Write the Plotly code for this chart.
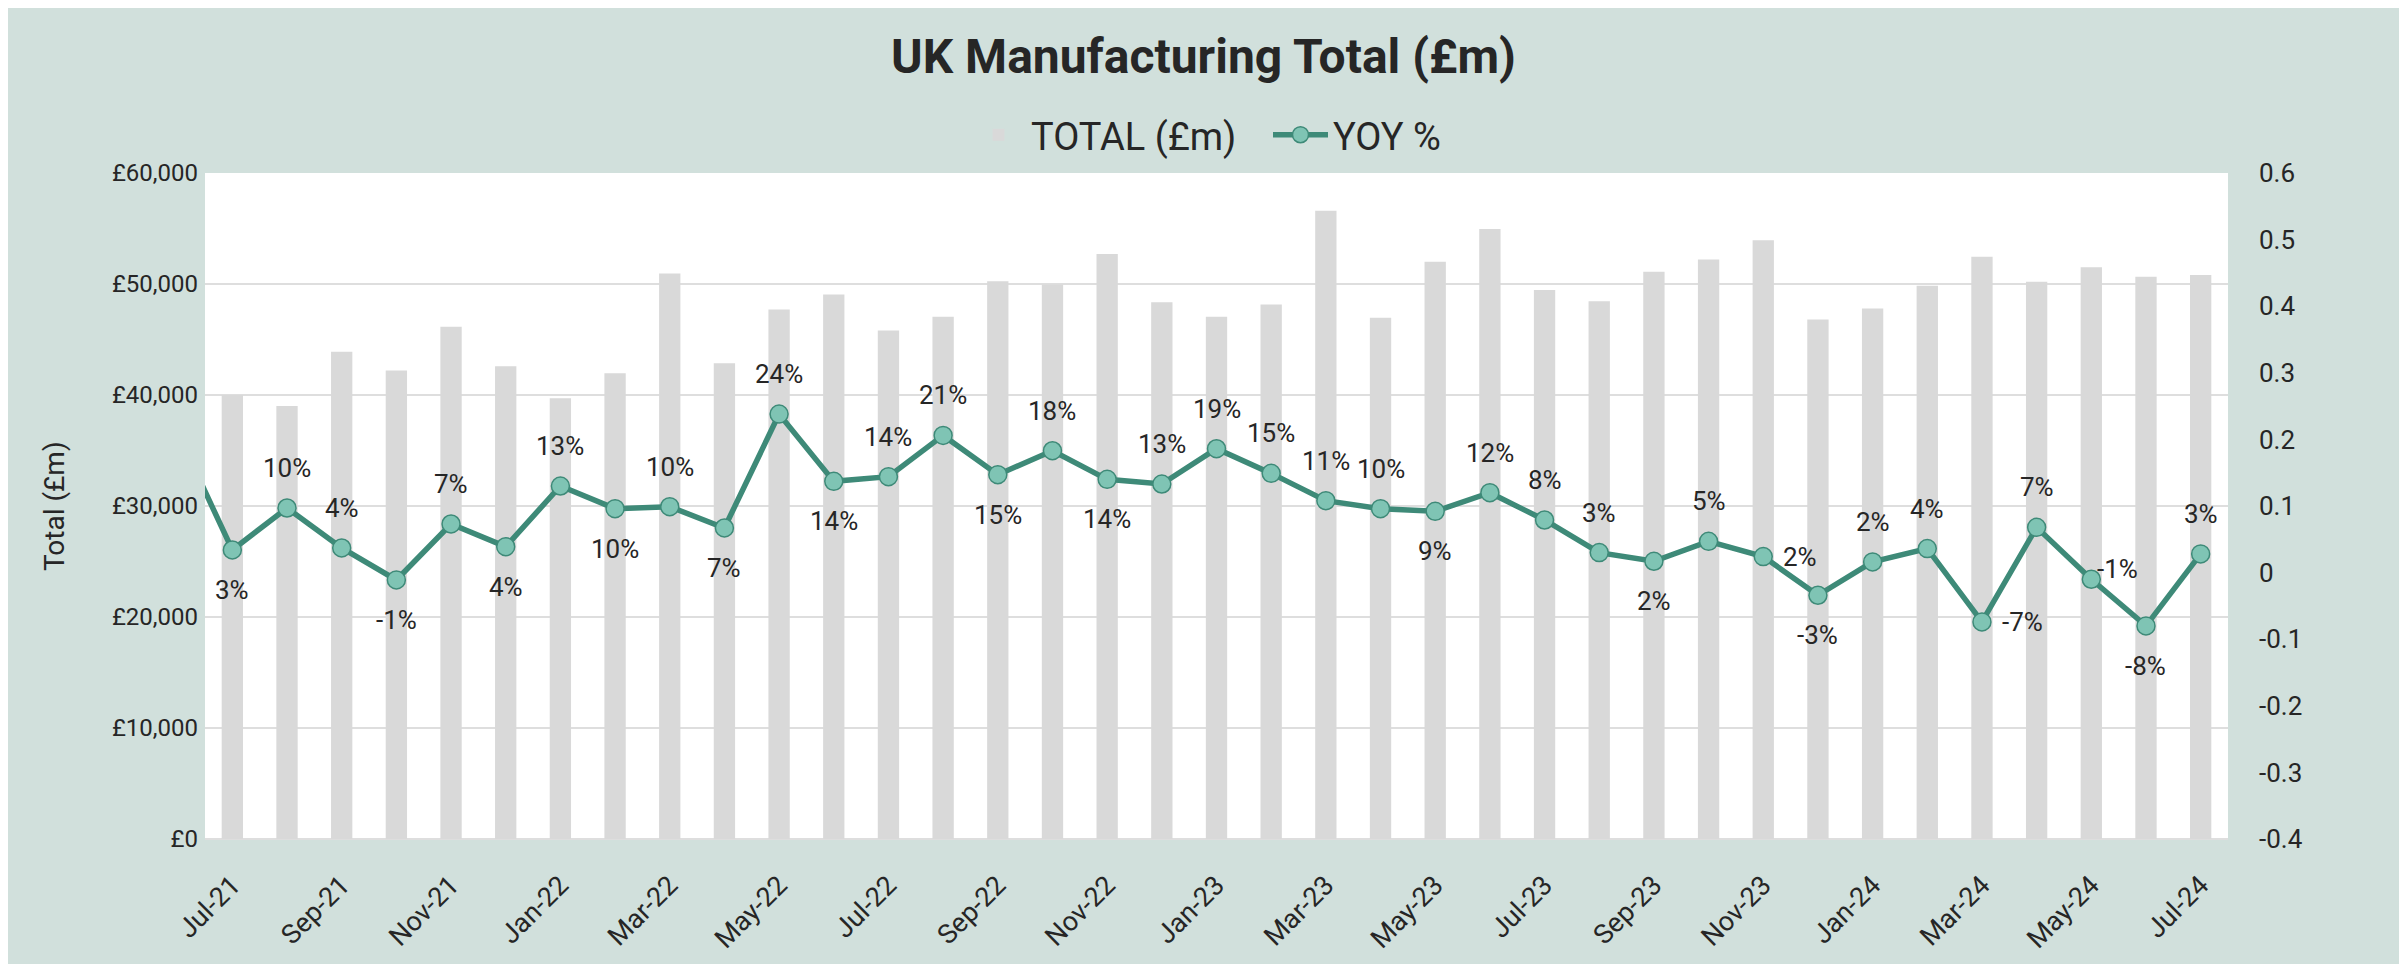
import plotly.graph_objects as go

# ---------------- data ----------------
months = ["Jun-21",
          "Jul-21", "Aug-21", "Sep-21", "Oct-21", "Nov-21", "Dec-21",
          "Jan-22", "Feb-22", "Mar-22", "Apr-22", "May-22", "Jun-22",
          "Jul-22", "Aug-22", "Sep-22", "Oct-22", "Nov-22", "Dec-22",
          "Jan-23", "Feb-23", "Mar-23", "Apr-23", "May-23", "Jun-23",
          "Jul-23", "Aug-23", "Sep-23", "Oct-23", "Nov-23", "Dec-23",
          "Jan-24", "Feb-24", "Mar-24", "Apr-24", "May-24", "Jun-24",
          "Jul-24"]

# TOTAL (£m), Jul-21 .. Jul-24 (no bar for Jun-21)
total_m = [None,
           40000, 39000, 43900, 42200, 46150, 42600,
           39700, 41950, 50950, 42850, 47700, 49050,
           45800, 47050, 50250, 49950, 52700, 48350,
           47050, 48150, 56600, 46950, 52000, 54950,
           49450, 48450, 51100, 52200, 53950, 46800,
           47800, 49850, 52450, 50200, 51500, 50650,
           50800]

# YOY %, Jun-21 .. Jul-24 (Jun-21 lies just left of the visible range)
yoy = [0.21,
       0.034, 0.097, 0.037, -0.011, 0.073, 0.039,
       0.130, 0.096, 0.099, 0.067, 0.238, 0.137,
       0.144, 0.206, 0.147, 0.183, 0.140, 0.133,
       0.186, 0.149, 0.108, 0.096, 0.092, 0.120,
       0.079, 0.030, 0.017, 0.047, 0.024, -0.034,
       0.016, 0.036, -0.074, 0.068, -0.010, -0.080,
       0.028]

# label placement per point (style)
label_pos = [None,
             "b", "t", "t", "b", "t", "b",
             "t", "b", "t", "b", "t", "b",
             "t", "t", "b", "t", "b", "t",
             "t", "t", "t", "t", "b", "t",
             "t", "t", "b", "t", "r", "b",
             "t", "t", "r", "t", "rn", "b",
             "t"]

left_tick_vals = [0, 10000, 20000, 30000, 40000, 50000, 60000]
left_tick_labels = ["£0", "£10,000", "£20,000", "£30,000", "£40,000",
                    "£50,000", "£60,000"]
right_tick_vals = [-0.4, -0.3, -0.2, -0.1, 0, 0.1, 0.2, 0.3, 0.4, 0.5, 0.6]
right_tick_labels = ["-0.4", "-0.3", "-0.2", "-0.1", "0", "0.1", "0.2",
                     "0.3", "0.4", "0.5", "0.6"]

# ---------------- styles ----------------
BG = "#D1E0DC"
BAR = "#D9D9D9"
LINE = "#3E8A78"
MARK = "#7FC4B4"
TXT = "#262626"
GRID = "#DEDEDE"
FONT = "Roboto"

xs = list(range(len(months)))
bar_x = [x for x, v in zip(xs, total_m) if v is not None]
bar_y = [v for v in total_m if v is not None]
tick_idx = [i for i in range(1, len(months), 2)]
tick_txt = [months[i] for i in tick_idx]

fig = go.Figure()
fig.add_trace(go.Bar(
    x=bar_x, y=bar_y, name="TOTAL (£m)", marker_color=BAR,
    marker_line_width=0, width=0.39, yaxis="y", legendwidth=232,
))
fig.add_trace(go.Scatter(
    x=xs, y=yoy, name="YOY %", mode="lines+markers", yaxis="y2",
    line=dict(color=LINE, width=5.5),
    marker=dict(size=18, color=MARK, line=dict(color=LINE, width=1.5)),
    cliponaxis=True,
))

W, H = 2391, 956
L, R, T, B = 197, 2220, 165, 831
pw, ph = R - L, B - T

annotations = []
for x, v, p in zip(xs, yoy, label_pos):
    if p is None:
        continue
    a = dict(x=x, y=v, xref="x", yref="y2", text=f"{v:.0%}", showarrow=False,
             font=dict(family=FONT, size=26, color=TXT))
    if p == "t":
        a.update(yshift=40)
    elif p == "b":
        a.update(yshift=-40)
    elif p == "rn":
        a.update(xanchor="left", xshift=4, yshift=10)
    else:
        a.update(xanchor="left", xshift=18)
    annotations.append(a)

# y-axis title
annotations.append(dict(text="Total (£m)", xref="paper", yref="paper",
                        x=(46 - L) / pw, y=0.5, xanchor="center",
                        yanchor="middle", textangle=-90, showarrow=False,
                        font=dict(family=FONT, size=28, color=TXT)))

fig.update_layout(
    template="none",
    width=W, height=H,
    margin=dict(l=L, r=W - R, t=T, b=H - B, pad=0, autoexpand=False),
    paper_bgcolor=BG, plot_bgcolor="white",
    font=dict(family=FONT, color=TXT, size=25),
    title=dict(text="<b>UK Manufacturing Total (£m)</b>", x=0.5,
               xref="container", xanchor="center", y=1 - 48 / H,
               yref="container", yanchor="middle",
               font=dict(family=FONT, size=48, color=TXT)),
    legend=dict(orientation="h", x=958 / W, xref="container", xanchor="left",
                y=1 - 127 / H, yref="container", yanchor="middle",
                font=dict(family=FONT, size=38, color=TXT),
                bgcolor="rgba(0,0,0,0)", borderwidth=0, itemwidth=55,
                traceorder="normal"),
    showlegend=True,
    xaxis=dict(range=[0.5, len(months) - 0.5], tickmode="array",
               tickvals=tick_idx, ticktext=tick_txt, tickangle=-45,
               showgrid=False, zeroline=False, showline=False, ticks="",
               automargin=False, ticklabelstandoff=24,
               tickfont=dict(family=FONT, size=27, color=TXT)),
    yaxis=dict(range=[0, 60000], tickmode="array", tickvals=left_tick_vals,
               ticktext=left_tick_labels, showgrid=True, gridcolor=GRID,
               gridwidth=2, zeroline=True, zerolinecolor=GRID,
               zerolinewidth=2, showline=False, ticks="",
               ticklabelstandoff=6, automargin=False,
               tickfont=dict(family=FONT, size=24, color=TXT)),
    yaxis2=dict(range=[-0.4, 0.6], overlaying="y", side="right",
                tickmode="array", tickvals=right_tick_vals,
                ticktext=right_tick_labels, showgrid=False, zeroline=False,
                showline=False, ticks="", ticklabelstandoff=30,
                automargin=False,
                tickfont=dict(family=FONT, size=26, color=TXT)),
    annotations=annotations,
)

fig.write_html("out.html")
